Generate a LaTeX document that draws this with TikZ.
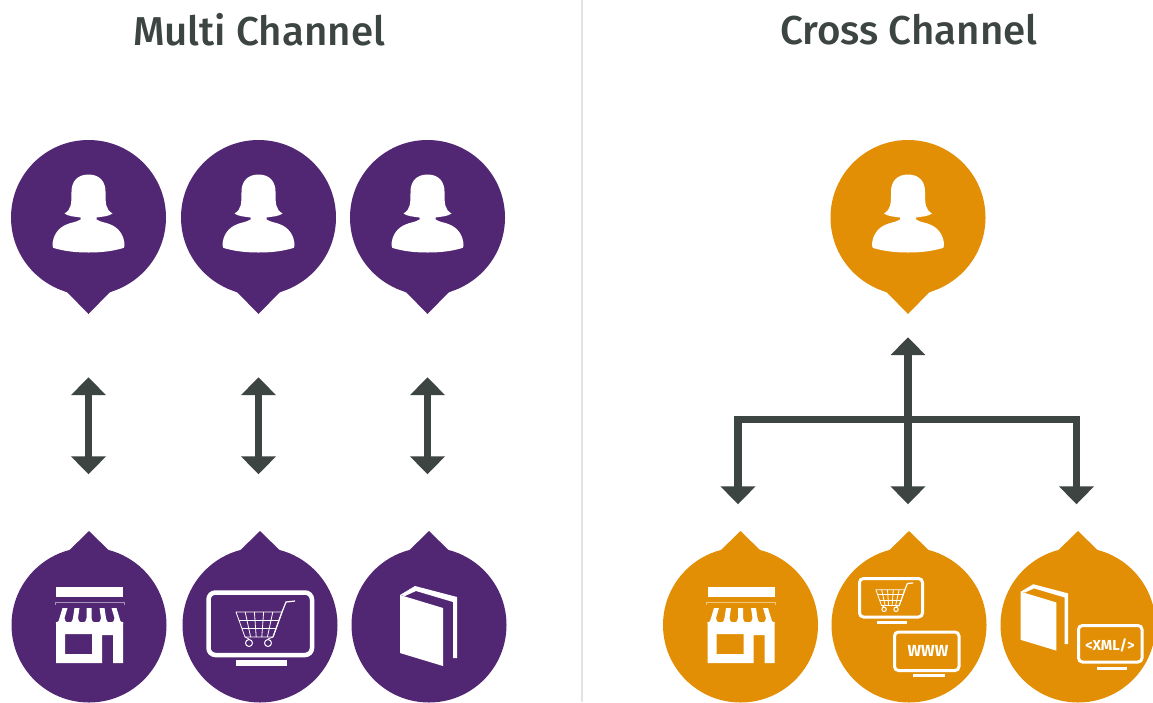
\documentclass[tikz,border=0pt]{standalone}
\usepackage{fontspec}
\setmainfont{Fira Sans}
\newfontfamily\headingfont{Fira Sans Medium}
\usetikzlibrary{arrows.meta}

\definecolor{pinpurple}{HTML}{512773}
\definecolor{pinorange}{HTML}{E38F05}
\definecolor{linegrey}{HTML}{3D4543}
\definecolor{dividergrey}{HTML}{E2E4E4}

\tikzset{
    pinpurple/.style={circle,fill=pinpurple,minimum size=155pt,inner sep=0pt},
    pinorange/.style={circle,fill=pinorange,minimum size=155pt,inner sep=0pt},
    heading/.style={text=linegrey,font=\headingfont\fontsize{40.3}{42}\selectfont},
    arrowline/.style={draw=linegrey,line width=7.5pt,-{Triangle[width=34pt,length=18pt]}},
    biline/.style={draw=linegrey,line width=7.5pt,{Triangle[width=34pt,length=18pt]}-{Triangle[width=34pt,length=18pt]}},
    glyph/.style={fill=white,draw=none},
    screenline/.style={draw=white,line width=4.5pt,rounded corners=7pt},
    smallscreen/.style={draw=white,line width=3pt,rounded corners=4pt},
    screentext/.style={text=white,font=\bfseries},
    pics/tipdown/.style={code={
        \fill[pic actions] (-32,70.5) .. controls (-28,72) and (-25,73) .. (-21,75) -- (0,96.5) -- (21,75) .. controls (25,73) and (28,72) .. (32,70.5) -- cycle;
    }},
    pics/tipup/.style={code={
        \fill[pic actions] (-32,-70.5) .. controls (-28,-72) and (-25,-72.5) .. (-21,-73.5) -- (0,-94) -- (21,-73.5) .. controls (25,-72.5) and (28,-72) .. (32,-70.5) -- cycle;
    }},
    pics/person/.style={code={
        \fill[glyph] (0,-43) .. controls (-11,-43) and (-17,-36) .. (-17,-26)
            .. controls (-17,-14) and (-17,-8) .. (-24,-4)
            .. controls (-20,-1) and (-14,-1) .. (-8,0)
            -- (-8,2) .. controls (-13,5) and (-18,5) .. (-22,7)
            .. controls (-30,10) and (-36,18) .. (-36,28)
            .. controls (-36,30) and (-35,31) .. (-33,31)
            .. controls (-22,34) and (-12,35) .. (0,35)
            .. controls (12,35) and (22,34) .. (33,31)
            .. controls (35,31) and (36,30) .. (36,28)
            .. controls (36,18) and (30,10) .. (22,7)
            .. controls (18,5) and (13,5) .. (8,2)
            -- (8,0) .. controls (14,-1) and (20,-1) .. (24,-4)
            .. controls (17,-8) and (17,-14) .. (17,-26)
            .. controls (17,-36) and (11,-43) .. (0,-43) -- cycle;
    }},
    pics/store/.style={code={
        \fill[glyph] (-33,-38) rectangle (34,-28);
        \draw[white,opacity=.5,line width=.6pt] (-34,-20) -- (-34,-23) -- (35,-23) -- (35,-20);
        % awning columns
        \foreach \xa/\xb in {-27/-24,-13.5/-12,0/0,14.5/13,28/25} {
            \fill[glyph] (\xb-2.5,-17) -- (\xb+2.5,-17) -- (\xa+2.5,-7)
                .. controls (\xa+2.5,-4) and (\xa+4,-3) .. (\xa+6.5,-2)
                -- (\xa-6.5,-2) .. controls (\xa-4,-3) and (\xa-2.5,-4) .. (\xa-2.5,-7) -- cycle;
        }
        \fill[glyph,even odd rule] (-33,-3) -- (34,-3) -- (34,38) -- (24,38) -- (24,10) -- (13,10) -- (13,38) -- (-33,38) -- cycle
            (-24,9) rectangle (3,29);
    }},
    pics/cart/.style={code={
        \draw[white,line width=.8pt,line join=round] (-24,-13) -- (22,-13) -- (13,12) -- (-15,12) -- cycle;
        \foreach \t in {.2,.4,.6,.8} {
            \draw[white,line width=.8pt] ({-24+46*\t},-13) -- ({-15+28*\t},12);
        }
        \draw[white,line width=.8pt] (-21,-5) -- (19,-5) (-18,3) -- (16,3);
        \draw[white,line width=1.2pt] (13,12) -- (22,-13) -- (26,-23) -- (35,-24);
        \draw[white,line width=.8pt] (-15,12) -- (-11,14) (13,12) -- (8,14);
        \draw[white,line width=1pt] (-11,18) circle (3.5pt) (8,18) circle (3.5pt);
    }},
    pics/book/.style={code={
        \fill[glyph] (-29,-30) -- (14,-17) -- (14,41) -- (-29,28) -- cycle;
        \fill[glyph] (-29,-30) -- (-14,-39) -- (28,-28) -- (28,33) -- (24,33) -- (24,-23) -- (-13,-34) -- (-24,-29) -- cycle;
    }},
}

\begin{document}
\begin{tikzpicture}[x=1pt,y=-1pt]
    \useasboundingbox (0,0) rectangle (1153,702);
    \fill[white] (0,0) rectangle (1153,702);
    \draw[dividergrey,line width=2pt] (582,0) -- (582,702);

    % Headings
    \node[heading] (multi) at (259,30) {Multi Channel};
    \node[heading] (cross) at (909,30) {Cross Channel};

    % Multi channel pins
    \node[pinpurple] (user1) at (88.5,217.5) {};
    \node[pinpurple] (user2) at (258.5,217.5) {};
    \node[pinpurple] (user3) at (427.5,217.5) {};
    \node[pinpurple] (store1) at (89,625) {};
    \node[pinpurple] (shop1) at (260,625) {};
    \node[pinpurple] (book1) at (429,625) {};

    % Cross channel pins
    \node[pinorange] (user4) at (908,217.5) {};
    \node[pinorange] (store2) at (740.5,625) {};
    \node[pinorange] (shop2) at (909,625) {};
    \node[pinorange] (book2) at (1078,625) {};

    \foreach \name in {user1,user2,user3} {
        \pic[fill=pinpurple] at (\name) {tipdown};
        \pic at (\name) {person};
    }
    \foreach \name in {store1,shop1,book1} {
        \pic[fill=pinpurple] at (\name) {tipup};
    }
    \pic[fill=pinorange] at (user4) {tipdown};
    \pic at (user4) {person};
    \foreach \name in {store2,shop2,book2} {
        \pic[fill=pinorange] at (\name) {tipup};
    }

    % Icons, multi channel
    \pic at (store1) {store};
    \draw[screenline] (208.5,592.5) rectangle (312,655);
    \fill[glyph] (236,660) rectangle (287,666);
    \pic at (shop1) {cart};
    \pic at (book1) {book};

    % Icons, cross channel
    \pic at (store2) {store};
    \draw[smallscreen] (859.5,578.5) rectangle (922.5,617);
    \fill[glyph] (877,620.5) rectangle (907,623.5);
    \pic[scale=.63] at (891,598) {cart};
    \draw[smallscreen] (894.5,632) rectangle (959,670.5);
    \fill[glyph] (912.5,674) rectangle (945,677);
    \node[screentext,font=\fontsize{16}{16}\selectfont\bfseries] (www) at (928,651) {WWW};
    \pic[scale=.83] at (1044.8,616.6) {book};
    \draw[smallscreen] (1078.5,625.5) rectangle (1142,662);
    \fill[glyph] (1096.5,666.5) rectangle (1126.5,669.5);
    \node[screentext,font=\fontsize{14.5}{14.5}\selectfont\bfseries] (xml) at (1110,645) {<XML/>};

    % Double arrows
    \draw[biline,shorten <=82pt,shorten >=73pt] (user1.south) -- (user1.south |- store1.north);
    \draw[biline,shorten <=82pt,shorten >=73pt] (user2.south) -- (user2.south |- shop1.north);
    \draw[biline,shorten <=82pt,shorten >=73pt] (user3.south) -- (user3.south |- book1.north);

    % Hub arrows
    \coordinate (hub) at (908,419.5);
    \draw[arrowline,shorten >=42pt] (hub) -- (user4.south);
    \draw[arrowline,shorten >=43pt,line join=miter] (hub) -| ([xshift=-2.5pt]store2.north);
    \draw[arrowline,shorten >=43pt] (hub) -- (hub |- shop2.north);
    \draw[arrowline,shorten >=43pt,line join=miter] (hub) -| ([xshift=-1.5pt]book2.north);
\end{tikzpicture}
\end{document}
